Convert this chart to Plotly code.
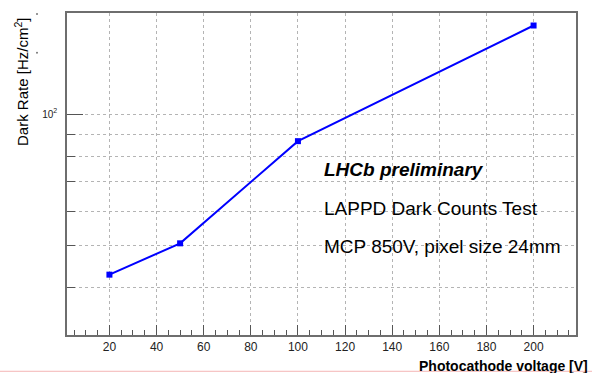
import plotly.graph_objects as go

# Data
voltage = [20, 50, 100, 200]            # Photocathode voltage [V]
dark_rate = [42.9, 50.6, 86.7, 159.5]   # Dark Rate [Hz/cm^2]

x_major = [20, 40, 60, 80, 100, 120, 140, 160, 180, 200]
y_major = [100]
y_major_text = ["10<sup>2</sup>"]
y_minor = [40, 50, 60, 70, 80, 90]

W, H = 592, 373
L, R, T, B = 67, 16, 11, 38
pw, ph = W - L - R, H - T - B


def px(xp):  # page pixel -> paper
    return (xp - L) / pw


def py(yp):
    return (H - B - yp) / ph


FONT = "Liberation Sans, Arial, sans-serif"
AX = "#6e6e6e"
GRID = "#b4b4b4"

fig = go.Figure()
fig.add_trace(go.Scatter(
    x=voltage, y=dark_rate, mode="lines+markers",
    line=dict(color="#0000ff", width=2),
    marker=dict(symbol="square", size=6, color="#0000ff"),
    showlegend=False, cliponaxis=False,
))

fig.update_layout(
    width=W, height=H, autosize=False,
    margin=dict(l=L, r=R, t=T, b=B, pad=0),
    paper_bgcolor="white", plot_bgcolor="white",
    font=dict(family=FONT, color="#222"),
    xaxis=dict(
        range=[2, 218], tickmode="array", tickvals=x_major,
        ticks="inside", ticklen=10, tickwidth=1, tickcolor="#555",
        showgrid=True, gridcolor=GRID, griddash="dot", gridwidth=1,
        minor=dict(dtick=5, tick0=0, ticks="inside", ticklen=5,
                   tickwidth=1, tickcolor="#555", showgrid=False),
        showline=True, linecolor=AX, linewidth=1.5, mirror=True,
        zeroline=False, tickfont=dict(size=12, color="#222"),
    ),
    yaxis=dict(
        type="log", range=[1.4943, 2.2314], tickmode="array",
        tickvals=y_major, ticktext=y_major_text,
        ticks="inside", ticklen=16, tickwidth=1, tickcolor="#555",
        showgrid=True, gridcolor=GRID, griddash="dot", gridwidth=1,
        minor=dict(tickmode="array", tickvals=y_minor, ticks="inside",
                   ticklen=8, tickwidth=1, tickcolor="#555",
                   showgrid=True, gridcolor=GRID, griddash="dot", gridwidth=1),
        showline=True, linecolor=AX, linewidth=1.5, mirror=True,
        zeroline=False, tickfont=dict(size=10, color="#222"),
        ticklabelstandoff=6,
    ),
)

annotations = [
    dict(text="<b><i>LHCb preliminary</i></b>", x=px(322), y=py(168),
         xanchor="left", yanchor="middle", font=dict(size=19, color="black")),
    dict(text="LAPPD Dark Counts Test", x=px(322), y=py(208),
         xanchor="left", yanchor="middle", font=dict(size=19, color="black")),
    dict(text="MCP 850V, pixel size 24mm", x=px(322), y=py(246),
         xanchor="left", yanchor="middle", font=dict(size=19, color="black")),
    dict(text="<b>Photocathode voltage [V]</b>", x=px(590), y=py(366),
         xanchor="right", yanchor="middle", font=dict(size=14, color="black")),
    dict(text="Dark Rate [Hz/cm<sup>2</sup>]", x=px(22), y=py(14),
         xanchor="center", yanchor="top", textangle=-90,
         font=dict(size=15, color="black")),
]
for a in annotations:
    a.update(xref="paper", yref="paper", showarrow=False)
fig.update_layout(annotations=annotations)

shapes = [
    dict(type="line", x0=px(0), x1=px(592), y0=py(371.5), y1=py(371.5),
         line=dict(color="#f4b4b4", width=1)),
    dict(type="circle", x0=px(36), x1=px(38), y0=py(11), y1=py(13),
         fillcolor="#777", line=dict(width=0)),
    dict(type="circle", x0=px(36), x1=px(38), y0=py(50), y1=py(52),
         fillcolor="#777", line=dict(width=0)),
]
for s in shapes:
    s.update(xref="paper", yref="paper")
fig.update_layout(shapes=shapes)

fig.write_html(
    "out.html",
    config={"displayModeBar": False},
    post_script="document.body.style.margin='0';"
                "document.body.style.overflow='hidden';",
)
